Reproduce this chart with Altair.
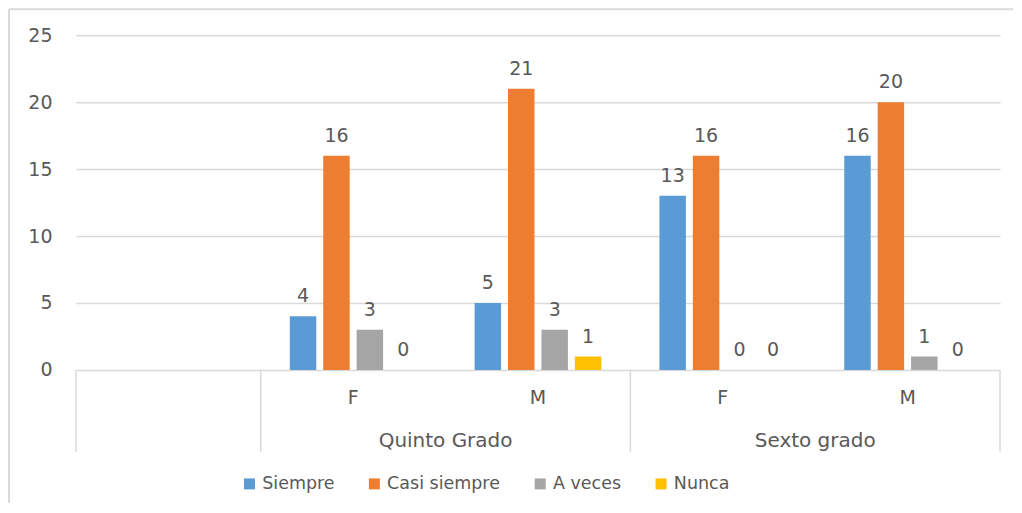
import altair as alt
import pandas as pd

# ---- data ----
slots = ["", "F", "M", "F", "M"]            # first slot is an empty category
slot_groups = ["", "Quinto Grado", "Quinto Grado", "Sexto grado", "Sexto grado"]
series = ["Siempre", "Casi siempre", "A veces", "Nunca"]
siempre = [4, 5, 13, 16]
casi_siempre = [16, 21, 16, 20]
a_veces = [3, 3, 0, 1]
nunca = [0, 1, 0, 0]
group_labels = ["Quinto Grado", "Sexto grado"]
colors = ["#5B9BD5", "#ED7D31", "#A5A5A5", "#FFC000"]

# layout constants (fractions of one category slot)
STEP = 33.45 / 185.0
BARW = 26.5 / 185.0

rows = []
for j, (s, vals) in enumerate(zip(series, [siempre, casi_siempre, a_veces, nunca])):
    for i, v in enumerate(vals, start=1):
        rows.append({"slot": i, "sidx": j, "serie": s, "valor": v})
df = pd.DataFrame(rows)

sub_df = pd.DataFrame({"slot": [i for i, s in enumerate(slots) if s],
                       "lab": [s for s in slots if s]})
grp_pos = []
for g in group_labels:
    idx = [i for i, sg in enumerate(slot_groups) if sg == g]
    grp_pos.append((min(idx) + max(idx) + 1) / 2)
grp_df = pd.DataFrame({"lab": group_labels, "pos": grp_pos})
bounds = [0] + [i for i in range(1, len(slots)) if slot_groups[i] != slot_groups[i - 1]] + [len(slots)]
sep_df = pd.DataFrame({"b": bounds})

FONT = "DejaVu Sans"
TXT = "#595959"
GRID = "#D9D9D9"
W, H = 925, 335

xscale = alt.Scale(domain=[0, len(slots)], nice=False, zero=False)
yscale = alt.Scale(domain=[0, 25], nice=False)


def y_axis():
    return alt.Axis(values=[0, 5, 10, 15, 20, 25], title=None, domain=False,
                    ticks=False, grid=True, gridColor=GRID, gridWidth=1.5,
                    labelFont=FONT, labelFontSize=19, labelColor=TXT,
                    labelPadding=24)


base = alt.Chart(df).transform_calculate(
    xc=f"datum.slot + 0.5 + (datum.sidx - 1.5) * {STEP}",
    cero="0",
).transform_calculate(
    xa=f"datum.xc - {BARW / 2}", xb=f"datum.xc + {BARW / 2}",
)

bars = base.mark_bar().encode(
    x=alt.X("xa:Q", scale=xscale, axis=None),
    x2="xb:Q",
    y=alt.Y("valor:Q", scale=yscale, axis=y_axis()),
    y2="cero:Q",
    color=alt.Color("serie:N", scale=alt.Scale(domain=series, range=colors),
                    legend=alt.Legend(title=None, orient="none", direction="horizontal",
                                      legendX=165, legendY=440,
                                      symbolType="square", symbolSize=121,
                                      symbolStrokeWidth=0, labelFontSize=17.5,
                                      labelFont=FONT, labelColor=TXT, labelOffset=4,
                                      columnPadding=31, labelLimit=300)),
)

labels = base.mark_text(font=FONT, fontSize=19, color=TXT, baseline="alphabetic", dy=-14).encode(
    x=alt.X("xc:Q", scale=xscale, axis=None),
    y=alt.Y("valor:Q", scale=yscale, axis=y_axis()),
    text="valor:Q",
)

sub = alt.Chart(sub_df).transform_calculate(c="datum.slot + 0.5").mark_text(
    font=FONT, fontSize=19, color=TXT, baseline="alphabetic").encode(
    x=alt.X("c:Q", scale=xscale, axis=None),
    y=alt.value(369),
    text="lab:N",
)

grp = alt.Chart(grp_df).mark_text(font=FONT, fontSize=20, color=TXT, baseline="alphabetic").encode(
    x=alt.X("pos:Q", scale=xscale, axis=None),
    y=alt.value(412),
    text="lab:N",
)

seps = alt.Chart(sep_df).mark_rule(color=GRID, strokeWidth=1.5).encode(
    x=alt.X("b:Q", scale=xscale, axis=None),
    y=alt.value(H), y2=alt.value(417),
)

border_top = alt.Chart(pd.DataFrame({"k": [0]})).mark_rule(color=GRID, strokeWidth=2).encode(
    x=alt.value(-67), x2=alt.value(W + 13), y=alt.value(-26),
)
border_left = alt.Chart(pd.DataFrame({"k": [0]})).mark_rule(color=GRID, strokeWidth=2).encode(
    x=alt.value(-67), y=alt.value(-26), y2=alt.value(H + 133),
)

chart = alt.layer(border_top, border_left, seps, bars, labels, sub, grp).properties(
    width=W, height=H, padding=0, background="white",
).configure_view(stroke=None)

chart.save("out.html", embed_options={"renderer": "svg", "actions": False})
